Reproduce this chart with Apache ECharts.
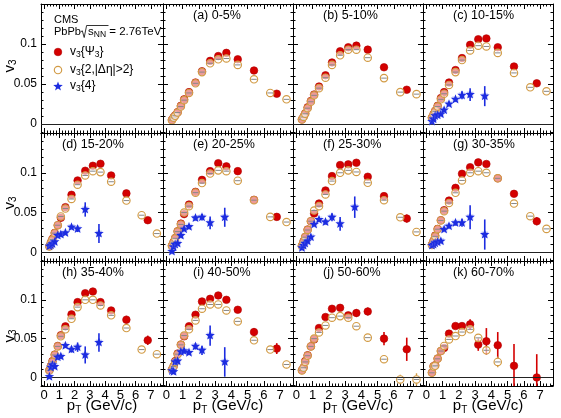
<!DOCTYPE html>
<html><head><meta charset="utf-8">
<script src="https://cdn.jsdelivr.net/npm/echarts@6/dist/echarts.min.js"></script>
<style>html,body{margin:0;padding:0;background:#fff}#c{width:561px;height:418px}</style>
</head><body><div id="c"></div>
<script>
// ---------------- data ----------------
const panelLabels = ['(a) 0-5%','(b) 5-10%','(c) 10-15%','(d) 15-20%','(e) 20-25%','(f) 25-30%','(g) 30-35%','(h) 35-40%','(i) 40-50%','(j) 50-60%','(k) 60-70%'];
const xTicks = [0,1,2,3,4,5,6,7];
const yTicks = [0,0.05,0.1];
const ptPsi  = [0.35,0.45,0.55,0.7,0.9,1.1,1.4,1.8,2.2,2.7,3.2,3.7,4.4,5.4,6.8];
const ptTwo  = [0.35,0.45,0.55,0.7,0.9,1.1,1.4,1.8,2.2,2.7,3.2,3.7,4.4,5.4,6.4,7.4];
const ptFour = [0.35,0.45,0.55,0.7,0.9,1.1,1.4,1.8,2.2,2.7,3.6];

// v3{Psi3}
const v3PsiValues = [
  [0.0055,0.0085,0.011,0.015,0.023,0.031,0.040,0.052,0.066,0.079,0.085,0.089,0.081,0.067,0.038],
  [0.006,0.0095,0.0135,0.021,0.029,0.037,0.047,0.061,0.077,0.091,0.096,0.098,0.093,0.071,0.043],
  [0.0083,0.0125,0.0167,0.023,0.0325,0.040,0.052,0.0675,0.0825,0.099,0.106,0.107,0.096,0.072,0.051],
  [0.0076,0.0126,0.0168,0.0244,0.034,0.0433,0.0567,0.0723,0.0903,0.1025,0.1088,0.1113,0.0966,0.074,0.0403],
  [0.0084,0.013,0.018,0.0265,0.036,0.048,0.060,0.076,0.091,0.102,0.112,0.108,0.102,0.066,0.0445],
  [0.0084,0.0139,0.0193,0.0286,0.039,0.0487,0.0613,0.0777,0.0958,0.1097,0.1105,0.1126,0.095,0.0706,0.0424],
  [0.0097,0.0147,0.021,0.0294,0.0403,0.0529,0.065,0.081,0.0987,0.107,0.113,0.111,0.093,0.0735,0.039],
  [0.0094,0.015,0.021,0.0295,0.0406,0.0543,0.0658,0.0812,0.097,0.1085,0.1107,0.097,0.0863,0.0744,0.0479],
  [0.0103,0.0145,0.021,0.0308,0.0423,0.053,0.066,0.0808,0.0979,0.1013,0.1056,0.100,0.0872,0.0585,0.0372],
  [0.0094,0.0128,0.021,0.0286,0.040,0.049,0.0637,0.0778,0.0885,0.0897,0.080,0.083,0.085,0.050,0.0363],
  [0.0064,0.0145,0.0158,0.0244,0.034,0.038,0.0564,0.0662,0.0662,0.0684,0.0423,0.0466,0.0415,0.015,0.0]
];
const v3PsiErrors = [
  [0.0005,0.0005,0.0005,0.0005,0.0005,0.0005,0.0005,0.0006,0.0007,0.0008,0.001,0.0012,0.0015,0.002,0.0025],
  [0.0005,0.0005,0.0005,0.0005,0.0005,0.0005,0.0005,0.0006,0.0007,0.0008,0.001,0.0012,0.0015,0.002,0.0025],
  [0.0005,0.0005,0.0005,0.0005,0.0005,0.0005,0.0005,0.0006,0.0007,0.0008,0.001,0.0012,0.0015,0.002,0.003],
  [0.0005,0.0005,0.0005,0.0005,0.0005,0.0005,0.0006,0.0006,0.0007,0.0008,0.001,0.0012,0.002,0.003,0.004],
  [0.0005,0.0005,0.0005,0.0005,0.0005,0.0005,0.0006,0.0006,0.0007,0.0008,0.001,0.0012,0.0015,0.003,0.004],
  [0.0005,0.0005,0.0005,0.0005,0.0005,0.0005,0.0006,0.0006,0.0007,0.0008,0.001,0.0012,0.002,0.003,0.005],
  [0.0005,0.0005,0.0005,0.0005,0.0005,0.0005,0.0006,0.0006,0.0007,0.0008,0.001,0.0012,0.002,0.004,0.005],
  [0.0005,0.0005,0.0005,0.0005,0.0005,0.0006,0.0006,0.0007,0.0008,0.001,0.0012,0.0015,0.0025,0.005,0.006],
  [0.0005,0.0005,0.0005,0.0005,0.0005,0.0006,0.0006,0.0007,0.0008,0.001,0.0012,0.0015,0.003,0.005,0.007],
  [0.0006,0.0006,0.0007,0.0008,0.001,0.0012,0.0015,0.002,0.0025,0.003,0.003,0.005,0.005,0.0085,0.015],
  [0.001,0.001,0.0012,0.0015,0.002,0.002,0.0025,0.003,0.004,0.0065,0.008,0.017,0.017,0.028,0.03]
];
// v3{2,|deta|>2}
const v3TwoValues = [
  [0.005,0.008,0.0105,0.0145,0.022,0.030,0.039,0.051,0.065,0.076,0.081,0.082,0.074,0.056,0.039,0.031],
  [0.0058,0.009,0.013,0.020,0.028,0.036,0.045,0.058,0.074,0.086,0.093,0.093,0.083,0.0575,0.040,0.0375],
  [0.008,0.012,0.016,0.022,0.031,0.038,0.049,0.065,0.080,0.092,0.098,0.097,0.089,0.064,0.046,0.041],
  [0.0074,0.012,0.016,0.024,0.034,0.045,0.055,0.067,0.085,0.0966,0.102,0.1008,0.0887,0.065,0.0466,0.0235],
  [0.008,0.0125,0.0175,0.026,0.035,0.050,0.058,0.075,0.087,0.099,0.103,0.102,0.090,0.0655,0.0445,0.038],
  [0.008,0.013,0.019,0.028,0.039,0.0525,0.058,0.0727,0.0895,0.100,0.103,0.101,0.0874,0.0655,0.044,0.0256],
  [0.009,0.014,0.020,0.029,0.040,0.0517,0.062,0.0748,0.0903,0.100,0.102,0.100,0.093,0.0613,0.0454,0.0294],
  [0.009,0.014,0.020,0.029,0.040,0.053,0.062,0.0756,0.0906,0.100,0.100,0.0927,0.080,0.0637,0.0359,0.030],
  [0.010,0.014,0.020,0.030,0.042,0.054,0.062,0.0735,0.0885,0.094,0.094,0.0863,0.0722,0.0479,0.0359,0.0167],
  [0.009,0.0125,0.020,0.028,0.040,0.050,0.058,0.067,0.077,0.079,0.077,0.066,0.0513,0.0235,-0.0026,-0.0026],
  [0.006,0.014,0.015,0.024,0.034,0.0406,0.049,0.0534,0.0585,0.062,0.051,0.035,0.020]
];
const v3TwoErrors = [
  [0.0005,0.0005,0.0005,0.0005,0.0005,0.0005,0.0005,0.0005,0.0005,0.0005,0.0006,0.0007,0.0008,0.001,0.0015,0.002],
  [0.0005,0.0005,0.0005,0.0005,0.0005,0.0005,0.0005,0.0005,0.0005,0.0005,0.0006,0.0007,0.0008,0.001,0.0015,0.002],
  [0.0005,0.0005,0.0005,0.0005,0.0005,0.0005,0.0005,0.0005,0.0005,0.0005,0.0006,0.0007,0.0008,0.001,0.0015,0.002],
  [0.0005,0.0005,0.0005,0.0005,0.0005,0.0005,0.0005,0.0005,0.0005,0.0005,0.0006,0.0007,0.0008,0.001,0.0015,0.002],
  [0.0005,0.0005,0.0005,0.0005,0.0005,0.0005,0.0005,0.0005,0.0005,0.0005,0.0006,0.0007,0.0008,0.001,0.0015,0.002],
  [0.0005,0.0005,0.0005,0.0005,0.0005,0.0005,0.0005,0.0005,0.0005,0.0005,0.0006,0.0007,0.0008,0.001,0.0015,0.002],
  [0.0005,0.0005,0.0005,0.0005,0.0005,0.0005,0.0005,0.0005,0.0005,0.0005,0.0006,0.0007,0.0008,0.0012,0.002,0.004],
  [0.0005,0.0005,0.0005,0.0005,0.0005,0.0005,0.0005,0.0005,0.0005,0.0006,0.0007,0.0008,0.001,0.002,0.003,0.004],
  [0.0005,0.0005,0.0005,0.0005,0.0005,0.0005,0.0005,0.0005,0.0005,0.0006,0.0007,0.0008,0.001,0.002,0.003,0.005],
  [0.0005,0.0005,0.0005,0.0005,0.0005,0.0005,0.0006,0.0007,0.0008,0.001,0.0012,0.0015,0.002,0.004,0.006,0.008],
  [0.0006,0.0006,0.0006,0.0007,0.0008,0.001,0.0012,0.0015,0.002,0.0025,0.004,0.005,0.007]
];
// v3{4}
const v3FourValues = [
  [],
  [],
  [0.0033,0.0063,0.0104,0.0113,0.0125,0.0175,0.025,0.031,0.036,0.037,0.035],
  [0.0076,0.0088,0.0105,0.013,0.021,0.0223,0.0244,0.0315,0.0294,0.0538,0.0235],
  [0.001,0.0067,0.0097,0.011,0.021,0.029,0.032,0.043,0.044,0.037,0.044],
  [0.0055,0.0084,0.011,0.014,0.019,0.035,0.041,0.038,0.044,0.0357,0.0567],
  [0.0084,0.0097,0.0115,0.0126,0.0139,0.0286,0.0328,0.037,0.037,0.044,0.0223],
  [0.001,0.013,0.016,0.014,0.026,0.027,0.041,0.036,0.039,0.029,0.045],
  [0.0085,0.0073,0.020,0.021,0.033,0.034,0.032,0.040,0.035,0.054,0.020],
  [],
  []
];
const v3FourErrors = [
  [],
  [],
  [0.001,0.001,0.001,0.001,0.0012,0.0015,0.002,0.003,0.005,0.008,0.0125],
  [0.001,0.001,0.001,0.001,0.0015,0.0015,0.002,0.0025,0.004,0.009,0.012],
  [0.002,0.001,0.001,0.001,0.0015,0.002,0.002,0.003,0.004,0.008,0.012],
  [0.001,0.001,0.001,0.0015,0.002,0.002,0.002,0.003,0.005,0.0085,0.0135],
  [0.001,0.001,0.001,0.0015,0.002,0.002,0.0025,0.0035,0.005,0.015,0.019],
  [0.002,0.002,0.002,0.002,0.003,0.003,0.003,0.004,0.006,0.011,0.012],
  [0.002,0.002,0.002,0.002,0.003,0.003,0.003,0.004,0.006,0.013,0.019],
  [],
  []
];

// ---------------- layout / style ----------------
const FONT = 'Liberation Sans, Arial, Helvetica, sans-serif';
const RED = '#d40000', GOLD = '#d29b45', BLUE = '#1c2ce0';
const X_MIN = -0.2, X_MAX = 7.8, Y_MIN = -0.011, Y_MAX = 0.15;
const colLeft = [41, 163, 293, 423], colWidth = [122, 130, 130, 130];
const rowTop = [4, 133, 261], rowHeight = [129, 128, 125];
const xMinor = [], yMinor = [];
for (let i = -1; i <= 39; i++) xMinor.push(+(i * 0.2).toFixed(2));
for (let i = -1; i <= 15; i++) yMinor.push(+(i * 0.01).toFixed(2));

function renderPsi(params, api) {
  const x = api.value(0), y = api.value(1), e = api.value(2);
  const p = api.coord([x, y]), lo = api.coord([x, y - e]), hi = api.coord([x, y + e]);
  return { type: 'group', children: [
    { type: 'line', shape: { x1: p[0], y1: lo[1], x2: p[0], y2: hi[1] }, style: { stroke: RED, lineWidth: 1.6 } },
    { type: 'circle', shape: { cx: p[0], cy: p[1], r: 3.8 }, style: { fill: RED, stroke: '#b00000', lineWidth: 0.6 } }
  ]};
}
function renderTwo(params, api) {
  const x = api.value(0), y = api.value(1), e = api.value(2);
  const p = api.coord([x, y]), lo = api.coord([x, y - e]), hi = api.coord([x, y + e]);
  const r = 3.7, ch = [];
  if (lo[1] - p[1] > r) {
    ch.push({ type: 'line', shape: { x1: p[0], y1: p[1] + r, x2: p[0], y2: lo[1] }, style: { stroke: GOLD, lineWidth: 1.4 } });
    ch.push({ type: 'line', shape: { x1: p[0], y1: p[1] - r, x2: p[0], y2: hi[1] }, style: { stroke: GOLD, lineWidth: 1.4 } });
  }
  ch.push({ type: 'circle', shape: { cx: p[0], cy: p[1], r: r }, style: { fill: 'rgba(255,255,255,0.6)', stroke: GOLD, lineWidth: 1.15 } });
  ch.push({ type: 'line', shape: { x1: p[0] - r + 0.9, y1: p[1], x2: p[0] + r - 0.9, y2: p[1] }, style: { stroke: '#888', lineWidth: 1 } });
  return { type: 'group', children: ch };
}
function starPoints(cx, cy, R, r) {
  const pts = [];
  for (let k = 0; k < 10; k++) {
    const a = -Math.PI / 2 + k * Math.PI / 5, rad = k % 2 ? r : R;
    pts.push([cx + rad * Math.cos(a), cy + rad * Math.sin(a)]);
  }
  return pts;
}
function renderFour(params, api) {
  const x = api.value(0), y = api.value(1), e = api.value(2);
  const p = api.coord([x, y]), lo = api.coord([x, y - e]), hi = api.coord([x, y + e]);
  const b1 = api.coord([x - 0.2, y + 0.004]), b2 = api.coord([x + 0.2, y - 0.004]);
  return { type: 'group', children: [
    { type: 'rect', shape: { x: b1[0], y: b1[1], width: b2[0] - b1[0], height: b2[1] - b1[1] }, style: { fill: 'rgba(140,150,240,0.35)' } },
    { type: 'line', shape: { x1: p[0], y1: lo[1], x2: p[0], y2: hi[1] }, style: { stroke: BLUE, lineWidth: 1.6 } },
    { type: 'polygon', shape: { points: starPoints(p[0], p[1], 5, 2.1) }, style: { fill: BLUE } }
  ]};
}

function makeX(g, pos, major, labels) {
  return {
    type: 'value', gridIndex: g, position: pos, min: X_MIN, max: X_MAX,
    axisLine: { show: major, onZero: false, lineStyle: { color: '#000', width: 1 } },
    axisTick: { show: true, inside: true, length: major ? 5 : 2.5, customValues: major ? xTicks : xMinor, lineStyle: { color: '#000', width: 1 } },
    axisLabel: { show: labels, customValues: xTicks, color: '#000', fontSize: 13, fontFamily: FONT, margin: 3 },
    splitLine: { show: false }, minorTick: { show: false }
  };
}
function makeY(g, pos, major, labels) {
  return {
    type: 'value', gridIndex: g, position: pos, min: Y_MIN, max: Y_MAX,
    axisLine: { show: major, onZero: false, lineStyle: { color: '#000', width: 1 } },
    axisTick: { show: true, inside: true, length: major ? 5 : 2.5, customValues: major ? yTicks : yMinor, lineStyle: { color: '#000', width: 1 } },
    axisLabel: { show: labels, customValues: yTicks, color: '#000', fontSize: 12, fontFamily: FONT, margin: 4 },
    splitLine: { show: false }, minorTick: { show: false }
  };
}

const grids = [], xAxes = [], yAxes = [], series = [], graphics = [];
for (let g = 0; g < 12; g++) {
  const r = Math.floor(g / 4), c = g % 4;
  grids.push({ left: colLeft[c], top: rowTop[r], width: colWidth[c], height: rowHeight[r], containLabel: false, outerBoundsMode: 'none' });
  const xi = xAxes.length, yi = yAxes.length;
  xAxes.push(makeX(g, 'bottom', true, r === 2), makeX(g, 'bottom', false, false), makeX(g, 'top', true, false), makeX(g, 'top', false, false));
  yAxes.push(makeY(g, 'left', true, c === 0), makeY(g, 'left', false, false), makeY(g, 'right', true, false), makeY(g, 'right', false, false));
  series.push({
    type: 'scatter', xAxisIndex: xi, yAxisIndex: yi, data: [], silent: true,
    markLine: { silent: true, symbol: 'none', label: { show: false }, lineStyle: { color: '#222', width: 1, type: 'solid' }, data: [{ yAxis: 0 }], animation: false }
  });
  if (g === 0) continue;
  const p = g - 1;
  series.push({ type: 'custom', xAxisIndex: xi, yAxisIndex: yi, clip: true, z: 3, renderItem: renderPsi, encode: { x: 0, y: 1 },
    data: v3PsiValues[p].map((v, i) => [ptPsi[i], v, v3PsiErrors[p][i]]) });
  series.push({ type: 'custom', xAxisIndex: xi, yAxisIndex: yi, clip: true, z: 4, renderItem: renderTwo, encode: { x: 0, y: 1 },
    data: v3TwoValues[p].map((v, i) => [ptTwo[i], v, v3TwoErrors[p][i]]) });
  if (v3FourValues[p].length) {
    series.push({ type: 'custom', xAxisIndex: xi, yAxisIndex: yi, clip: true, z: 5, renderItem: renderFour, encode: { x: 0, y: 1 },
      data: v3FourValues[p].map((v, i) => [ptFour[i], v, v3FourErrors[p][i]]) });
  }
  graphics.push({ type: 'text', x: colLeft[c] + (c === 0 ? 21 : 30), y: rowTop[r] + 11.5,
    style: { text: panelLabels[p], font: '12.5px ' + FONT, fill: '#000', textAlign: 'left', textVerticalAlign: 'middle', align: 'left', verticalAlign: 'middle' } });
}

const sub = { fontSize: 10, lineHeight: 10, verticalAlign: 'bottom', fontFamily: FONT, fill: '#000' };
// y titles
[66, 203, 336].forEach(yc => {
  graphics.push({ type: 'text', x: 9.5, y: yc, rotation: Math.PI / 2,
    style: { text: '{m|v}{s|3}', textAlign: 'center', textVerticalAlign: 'middle', align: 'center', verticalAlign: 'middle', fill: '#000',
      rich: { m: { fontSize: 15, lineHeight: 17, fontFamily: FONT }, s: sub } } });
});
// x titles
for (let c = 0; c < 4; c++) {
  graphics.push({ type: 'text', x: colLeft[c] + colWidth[c] / 2, y: 406,
    style: { text: '{m|p}{s|T}{m| (GeV/c)}', textAlign: 'center', textVerticalAlign: 'middle', align: 'center', verticalAlign: 'middle', fill: '#000',
      rich: { m: { fontSize: 15, lineHeight: 18, fontFamily: FONT }, s: sub } } });
}
// legend panel
const sub8 = { fontSize: 8.5, lineHeight: 9, verticalAlign: 'bottom', fontFamily: FONT };
const m12 = { fontSize: 12, lineHeight: 15, fontFamily: FONT };
graphics.push(
  { type: 'text', x: 54, y: 20, style: { text: 'CMS', font: '11px ' + FONT, fill: '#000', textVerticalAlign: 'middle', verticalAlign: 'middle' } },
  { type: 'text', x: 54, y: 32, style: { text: 'PbPb', font: '11px ' + FONT, fill: '#000', textVerticalAlign: 'middle', verticalAlign: 'middle' } },
  { type: 'polyline', shape: { points: [[80.5, 32], [82.3, 30.8], [84.2, 37.5], [86.6, 25.5], [108.5, 25.5]] }, style: { stroke: '#000', lineWidth: 0.8, fill: null } },
  { type: 'text', x: 88, y: 32, style: { text: '{m|s}{s|NN}{m| = 2.76TeV}', fill: '#000', textVerticalAlign: 'middle', verticalAlign: 'middle', rich: { m: { fontSize: 11.5, lineHeight: 15, fontFamily: FONT }, s: sub8 } } },
  { type: 'circle', shape: { cx: 58, cy: 52, r: 3.8 }, style: { fill: RED, stroke: '#b00000', lineWidth: 0.6 } },
  { type: 'text', x: 70, y: 52, style: { text: '{m|v}{s|3}{m|\u007BΨ}{s|3}{m|\u007D}', fill: '#000', textVerticalAlign: 'middle', verticalAlign: 'middle', rich: { m: m12, s: sub8 } } },
  { type: 'circle', shape: { cx: 58, cy: 70, r: 3.7 }, style: { fill: '#fff', stroke: GOLD, lineWidth: 1.15 } },
  { type: 'text', x: 70, y: 70, style: { text: '{m|v}{s|3}{m|\u007B2,|Δη|>2\u007D}', fill: '#000', textVerticalAlign: 'middle', verticalAlign: 'middle', rich: { m: m12, s: sub8 } } },
  { type: 'polygon', shape: { points: starPoints(58, 86.5, 5, 2.1) }, style: { fill: BLUE } },
  { type: 'text', x: 70, y: 86, style: { text: '{m|v}{s|3}{m|\u007B4\u007D}', fill: '#000', textVerticalAlign: 'middle', verticalAlign: 'middle', rich: { m: m12, s: sub8 } } }
);

const chart = echarts.init(document.getElementById('c'), null, { renderer: 'canvas' });
chart.setOption({
  animation: false,
  backgroundColor: '#fff',
  textStyle: { fontFamily: FONT },
  grid: grids, xAxis: xAxes, yAxis: yAxes, series: series, graphic: graphics
});
</script></body></html>
